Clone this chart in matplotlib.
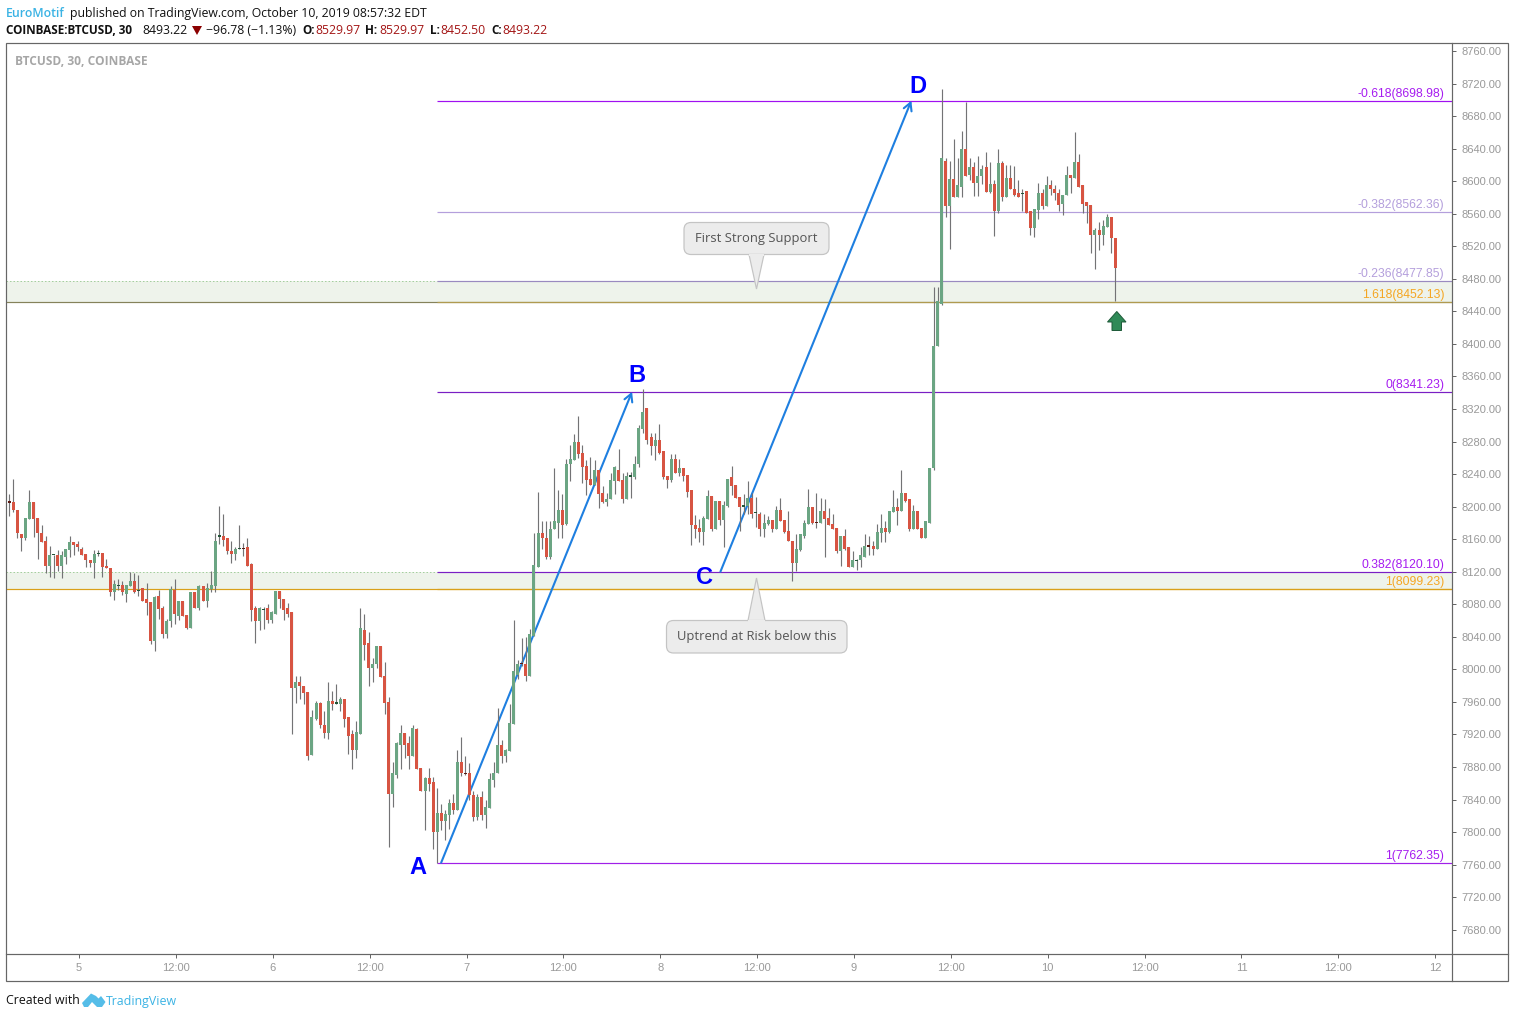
import numpy as np
import matplotlib
matplotlib.use("Agg")
import matplotlib.pyplot as plt
from matplotlib.patches import Polygon, Rectangle, FancyBboxPatch

opens = [
 8206,8206,8196,8166,8161,8185,8206,8186,8168,8158,
 8127,8140.5,8141,8127,8138,8147,8157,8154,8148,8142,
 8135,8131,8142.5,8143,8127,8125,8095,8102.5,8104,8093,
 8103,8108,8096.5,8100,8086,8083,8035,8090,8076,8044,
 8059,8097,8066,8084,8067,8051,8095,8075,8102,8084,
 8099,8103,8163.5,8164,8162,8146,8142,8148.5,8149,8150,
 8129,8075,8059,8073.5,8075,8061,8068,8096,8087,8075,
 8071,7977,7984,7980,7972,7895,7939,7959,7932,7922,
 7961,7958.5,7958,7964,7941,7920,7901,7921,8048,8032,
 8002,8006,8029,7992,7960,7847,7870,7907,7922,7909,
 7893,7927,7879,7851,7867,7861,7800,7824,7814,7821,
 7836,7827,7886,7872,7872,7846,7819,7843,7821,7830,
 7864,7873,7907,7894,7900,7933,7993,8007,8007,7992,
 8041,8126,8168,8162,8138,8172,8180,8196,8179,8252,
 8257,8280,8266,8250,8234,8227,8245,8217,8206,8209,
 8232,8245,8233,8209,8237.5,8237,8252,8296,8321,8285,
 8274,8282,8268,8238,8233,8258,8241,8247,8239,8220,
 8178,8174,8169,8185,8213,8172,8207,8184,8201,8236,
 8226,8212,8200.5,8201,8211,8192.5,8191,8173,8179,8184,
 8172,8196,8183,8170,8158,8131,8147,8164,8179,8199,
 8181,8180,8195,8186,8179,8174,8146,8164,8150,8126,
 8133.5,8134,8138,8152,8152,8148,8168,8174,8169,8194,
 8199,8195,8217,8209,8172,8195,8174,8162,8180,8247,
 8397,8449,8625,8570,8603,8580,8593,8639,8608,8618,
 8598,8607,8618,8587,8596,8564,8623,8580,8604,8591,
 8585,8584.5,8588,8563,8543,8565,8585,8570,8595,8591,
 8586,8572,8583,8608,8604,8624,8595,8574,8571,8534,
 8540,8534,8544,8556,8529.97]
highs = [
 8215,8234,8196,8166,8186,8221,8206,8186,8177,8164,
 8152,8141,8147,8146,8148,8164,8157,8158,8151,8142,
 8135,8147,8147,8143,8136,8125,8110,8111,8108,8104,
 8120,8119,8116,8100,8106,8083,8090,8098,8078,8062,
 8103,8111,8084,8084,8067,8095,8095,8104,8102,8106,
 8121,8168,8201,8191,8162,8158,8151,8177,8155,8161,
 8131,8078,8077,8077,8080,8072,8096,8096,8087,8082,
 8071,7992,7992,7980,7972,7950,7961,7960,7949,7985,
 7974,7982,7966,7964,7941,7926,7936,8075,8068,8046,
 8014,8029,8029,8009,7966,7886,7911,7931,7922,7918,
 7931,7928,7879,7868,7879,7868,7854,7834,7827,7841,
 7847,7901,7917,7893,7885,7851,7847,7851,7840,7872,
 7886,7952,7913,7902,7957,8061,8011,8039,8040,8050,
 8168,8218,8182,8182,8182,8247,8220,8215,8259,8276,
 8289,8312,8276,8257,8261,8257,8245,8225,8217,8241,
 8250,8271,8241,8243,8243,8262,8300,8344,8321,8291,
 8291,8301,8268,8238,8265,8265,8258,8247,8239,8220,
 8190,8185,8189,8220,8213,8207,8207,8207,8234,8250,
 8226,8212,8216,8231,8217,8212,8194,8191,8189,8184,
 8201,8211,8183,8195,8158,8166,8166,8184,8222,8200,
 8217,8211,8209,8198,8191,8174,8164,8172,8150,8146,
 8136,8151,8166,8164,8158,8179,8191,8182,8195,8221,
 8211,8245,8217,8209,8202,8195,8174,8182,8248,8470,
 8470,8713,8629,8625,8652,8629,8662,8697,8629,8624,
 8631,8620,8636,8624,8602,8639,8625,8620,8620,8619,
 8601,8591,8588,8563,8566,8598,8591,8606,8602,8595,
 8590,8583,8619,8608,8661,8633,8595,8574,8571,8542,
 8550,8552,8560,8556,8529.97]
lows = [
 8189,8193,8161,8145,8159,8185,8163,8136,8156,8119,
 8114,8112,8121,8112,8130,8138,8140,8146,8140,8126,
 8126,8112,8139,8113,8124,8090,8085,8098,8092,8083,
 8102,8094,8090,8084,8067,8031,8022,8062,8039,8038,
 8052,8056,8061,8066,8050,8051,8076,8073,8084,8077,
 8095,8095,8154,8152,8142,8131,8135,8148,8139,8127,
 8059,8032,8048,8049,8057,8057,8068,8075,8061,8064,
 7920,7959,7964,7957,7889,7895,7938,7928,7916,7915,
 7950,7958,7949,7929,7896,7877,7891,7920,8011,7979,
 7984,8002,7990,7945,7782,7831,7867,7877,7891,7878,
 7893,7878,7851,7802,7851,7779,7762,7802,7790,7804,
 7822,7827,7869,7870,7840,7814,7815,7815,7805,7830,
 7856,7873,7885,7886,7900,7933,7988,8004,7986,7992,
 8041,8126,8148,8136,8136,8172,8162,8161,8177,8231,
 8257,8260,8229,8214,8226,8227,8198,8205,8201,8209,
 8216,8231,8205,8209,8211,8234,8249,8291,8277,8263,
 8257,8265,8234,8223,8230,8241,8238,8232,8212,8153,
 8161,8157,8153,8185,8170,8172,8177,8151,8200,8214,
 8211,8170,8191,8191,8186,8175,8164,8163,8177,8169,
 8172,8182,8168,8158,8108,8121,8145,8162,8179,8179,
 8174,8180,8138,8177,8173,8143,8127,8147,8126,8126,
 8122,8126,8138,8140,8141,8148,8157,8157,8168,8194,
 8178,8195,8206,8170,8172,8173,8162,8162,8180,8245,
 8397,8448,8556,8517,8581,8580,8581,8606,8601,8582,
 8582,8597,8587,8586,8533,8561,8576,8580,8590,8582,
 8580,8563,8561,8534,8532,8554,8566,8570,8583,8577,
 8563,8559,8583,8586,8604,8593,8561,8549,8512,8492,
 8515,8522,8544,8512,8452.50]
closes = [
 8205.5,8196,8168,8161,8186,8206,8185,8167,8157,8127,
 8141,8141,8127,8140,8148,8157,8153,8150,8141,8134,
 8131,8142,8143,8126,8124,8095,8105,8103,8095,8104,
 8108,8095,8097,8084,8082,8035,8089,8074,8044,8060,
 8099,8068,8084,8066,8051,8095,8076,8102,8084,8100,
 8104,8158,8164,8159,8145,8142,8148,8149,8148.5,8127,
 8073,8059,8075,8074,8061,8071,8096,8086,8073,8068,
 7977,7984,7980,7971,7893,7941,7959,7931,7922,7961,
 7958,7959,7964,7939,7918,7901,7923,8051,8030,8002,
 8007,8029,7991,7959,7847,7872,7909,7922,7907,7893,
 7928,7878,7851,7867,7859,7800,7824,7814,7822,7836,
 7827,7886,7873,7871.5,7845,7819,7843,7821,7831,7865,
 7872,7907,7894,7901,7934,7998,8007,8006.5,7992,8044,
 8128,8168,8161,8138,8173,8182,8196,8177,8253,8258,
 8280,8265,8249,8233,8227,8245,8216,8206,8210,8233,
 8249,8232,8209,8238,8238,8253,8297,8316,8282,8274,
 8282,8266,8237,8233,8259,8241,8247,8238,8218,8178,
 8173,8169,8186,8213,8172,8207,8184,8202,8234,8225,
 8211,8200,8201,8211,8191,8193,8173,8180,8184,8172,
 8196,8182,8169,8158,8131,8148,8166,8180,8199,8180,
 8180.5,8195,8185,8178,8173,8146,8164,8148,8126,8135,
 8134,8140,8152,8151.5,8148,8169,8174,8169,8195,8199,
 8195,8217,8207,8172,8195,8173,8162,8182,8248,8397,
 8453,8629,8570,8603,8581,8595,8639,8606,8618,8598,
 8607,8615,8587,8596,8564,8623,8580,8604,8590,8583,
 8580,8585,8561,8543,8566,8585,8569,8595,8590,8585,
 8571,8583,8608,8604,8624,8593,8572,8570,8534,8540,
 8534,8545,8556,8529.97,8493.22]

price_ticks = list(range(7680, 8761, 40))
time_tick_bars = [17.3 + 24 * k for k in range(15)]
time_tick_labels = ["5","12:00","6","12:00","7","12:00","8","12:00","9","12:00","10","12:00","11","12:00","12"]

fib_labels = ["-0.618", "-0.382", "-0.236", "1.618", "0", "0.382", "1", "1"]
fib_levels = [8698.98, 8562.36, 8477.85, 8452.13, 8341.23, 8120.10, 8099.23, 7762.35]
fib_text_colors = ["#a61cf0", "#b49fdc", "#b49fdc", "#f5a623", "#a61cf0", "#a61cf0", "#f5a623", "#a61cf0"]
fib_line_colors = ["#a010f0", "#b49fdc", "#9a8ac0", "#b09a50", "#7a1fc4", "#7a1fc4", "#d9a01a", "#a020e8"]
fib_start_bar = 106
zones = [(8452.13, 8477.85), (8099.23, 8120.10)]
zone_floor_colors = ["#85825a", "#d9a01a"]
wave_bars = [107.0, 154.3, 176.2, 223.5]
wave_prices = [7762.35, 8341.23, 8120.10, 8698.98]

W, H = 1515, 1018
L_PX, R_PX, T_PX, B_PX = 6.2, 1452.2, 43.2, 954.0
PX = 0.72
BAR_PX = 4.036
X0_PX = 9.3

fig = plt.figure(figsize=(W / 100, H / 100), dpi=100, facecolor="white")
ax = fig.add_axes([L_PX / W, 1 - B_PX / H, (R_PX - L_PX) / W, (B_PX - T_PX) / H])
ax.set_xlim((L_PX - X0_PX) / BAR_PX, (R_PX - X0_PX) / BAR_PX)
UNIT_PX = 781 / 960
ax.set_ylim(7760 - (B_PX - 864.6) / UNIT_PX, 8720 + (83.6 - T_PX) / UNIT_PX)
for s in ax.spines.values():
    s.set_visible(False)

o, h, l, c = map(np.array, (opens, highs, lows, closes))
x = np.arange(len(o))

# zones and levels
for (lo, hi), col in zip(zones, zone_floor_colors):
    ax.axhspan(lo, hi, color="#eef3eb", lw=0, zorder=1)
    ax.axhline(lo, color=col, lw=PX * 1.2, zorder=2)
    ax.plot([ax.get_xlim()[0], fib_start_bar], [hi, hi], color="#a5cf9f", lw=PX, ls=(0, (1.5, 2)), zorder=2)
for lev, col in zip(fib_levels, fib_line_colors):
    ax.plot([fib_start_bar, ax.get_xlim()[1]], [lev, lev], color=col, lw=PX * 1.2, zorder=2.2,
            solid_capstyle="butt")
for name, lev, col in zip(fib_labels, fib_levels, fib_text_colors):
    ax.annotate(f"{name}({lev:.2f})", xy=(1, lev), xycoords=("axes fraction", "data"),
                xytext=(-8 * PX, 6.5 * PX), textcoords="offset points", ha="right", va="center",
                fontsize=8.7, color=col, family="Liberation Sans", zorder=6)

# wave arrows
for i in (0, 2):
    ax.annotate("", xy=(wave_bars[i + 1], wave_prices[i + 1]), xytext=(wave_bars[i], wave_prices[i]),
                arrowprops=dict(arrowstyle="->,head_length=0.55,head_width=0.3", color="#1e7fe0",
                                lw=1.5, shrinkA=0, shrinkB=0), zorder=3)

# candles
up = c >= o
doji = np.abs(c - o) <= 0.5
ax.vlines(x, l, h, colors="#737375", linewidth=PX * 1.15, zorder=4)
body_col = np.where(up, "#6ba583", "#d75442")
mask = ~doji
ax.bar(x[mask], np.abs(c - o)[mask], bottom=np.minimum(o, c)[mask], width=3.0 / BAR_PX,
       color=body_col[mask], linewidth=0, zorder=5)
doji_col = np.where(up, "#225437", "#5b1a13")
ax.bar(x[doji], 1.6, bottom=np.minimum(o, c)[doji] - 0.5, width=3.0 / BAR_PX,
       color=doji_col[doji], linewidth=0, zorder=5)

# axes ticks
ax.yaxis.tick_right()
ax.set_yticks(price_ticks)
ax.set_yticklabels([f"{p:.2f}" for p in price_ticks])
ax.set_xticks(time_tick_bars)
ax.set_xticklabels(time_tick_labels)
ax.tick_params(axis="y", length=4 * PX, width=PX, color="#666666", pad=5 * PX,
               labelsize=8.0, labelcolor="#999999")
ax.tick_params(axis="x", length=4 * PX, width=PX, color="#666666", pad=5 * PX,
               labelsize=8.0, labelcolor="#999999")
for t in ax.get_xticklabels() + ax.get_yticklabels():
    t.set_family("Liberation Sans")

# overlay in pixel space
ov = fig.add_axes([0, 0, 1, 1], facecolor="none")
ov.set_xlim(0, W)
ov.set_ylim(H, 0)
ov.axis("off")

frame = "#666666"
ov.add_patch(Rectangle((6.2, 43.2), 1501.8, 937.8, fill=False, ec=frame, lw=PX * 1.2))
ov.plot([1452.2, 1452.2], [43.2, 981], color=frame, lw=PX * 1.2)
ov.plot([6.2, 1508], [954, 954], color=frame, lw=PX * 1.2)

FONT = "Open Sans"
def put(px, py, s, color="#131722", weight="normal", size=8.8, family=FONT, **kw):
    ov.text(px, py, s, color=color, fontweight=weight, fontsize=size, family=family, va="center", **kw)

put(6, 13.5, "EuroMotif", color="#3bb3e4", weight="semibold")
put(69.5, 13.5, "published on TradingView.com, October 10, 2019 08:57:32 EDT", color="#111111")
put(6, 30.5, "COINBASE:BTCUSD, 30", weight="bold", color="#111111", size=8.5)
put(142, 30.5, "8493.22", color="#111111")
ov.add_patch(Polygon([(192, 26), (202, 26), (197, 35)], closed=True, color="#8b0000", lw=0))
put(206, 30.5, "\u221296.78 (\u22121.13%)", color="#111111")
for xl, lab, xv, val in [(302, "O:", 315, "8529.97"), (365, "H:", 379, "8529.97"),
                         (430, "L:", 440, "8452.50"), (491, "C:", 502, "8493.22")]:
    put(xl, 30.5, lab, weight="bold", color="#111111", size=8.5)
    put(xv, 30.5, val, color="#a31515")
put(15, 61.5, "BTCUSD, 30, COINBASE", color="#a6a6a6", weight="bold", size=8.6)

for s, px, py in [("A", 418, 867), ("B", 637, 376), ("C", 704.5, 578), ("D", 918, 86)]:
    ov.text(px, py, s, color="#0000ff", fontsize=17, fontweight="bold", family="Liberation Sans",
            ha="center", va="center")

def callout(x0, x1, y0, y1, tip, base_l, base_r, text):
    ov.add_patch(FancyBboxPatch((x0 + 7, y0 + 7), x1 - x0 - 14, y1 - y0 - 14,
                                boxstyle="round,pad=7,rounding_size=7", fc="#ececec", ec="#c4c4c4",
                                lw=PX * 1.2, zorder=7))
    base_y = y1 if tip > y1 else y0
    ov.add_patch(Polygon([(base_l, base_y), (756.5, tip), (base_r, base_y)], closed=True,
                         fc="#ececec", ec="#c4c4c4", lw=PX * 1.2, zorder=7.1))
    ov.plot([base_l + 0.7, base_r - 0.7], [base_y, base_y], color="#ececec", lw=PX * 2, zorder=7.2)
    ov.text((x0 + x1) / 2, (y0 + y1) / 2, text, color="#555555", fontsize=9.35, family="Open Sans",
            ha="center", va="center", zorder=8)

callout(684, 829, 222.5, 254.5, 289, 749, 764, "First Strong Support")
callout(666.5, 847, 620.5, 653, 578, 748, 765, "Uptrend at Risk below this")

ov.add_patch(Polygon([(1116.8, 311.5), (1126, 322), (1121.5, 322), (1121.5, 330.5), (1112, 330.5),
                      (1112, 322), (1107.5, 322)], closed=True, fc="#2f8a57", ec="#1f5c3a", lw=PX))

put(6, 1001, "Created with", color="#111111", size=8.9)
ov.add_patch(Polygon([(82, 1003), (91, 993.5), (96, 996), (98.5, 998.5), (101, 996), (105.5, 1002), (102, 1007),
                      (97, 1007), (92, 1002), (88, 1007), (84, 1007)], closed=True, fc="#55bde8", lw=0))
put(106, 1001, "TradingView", color="#3bb3e4", size=8.95)

fig.savefig("out.png", dpi=100)
